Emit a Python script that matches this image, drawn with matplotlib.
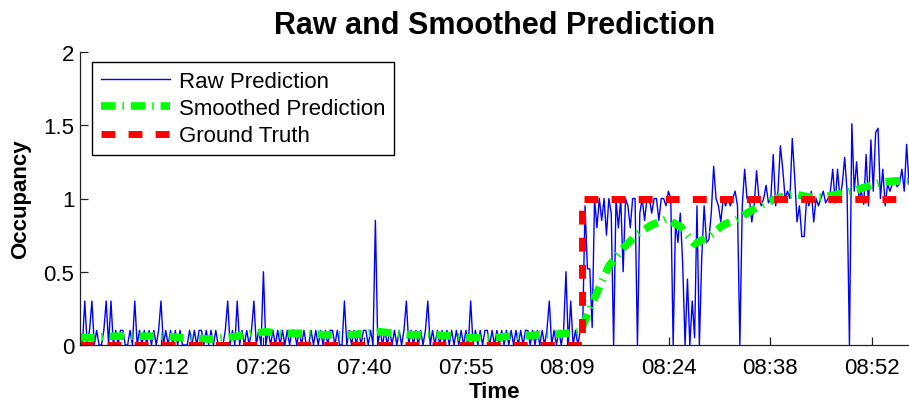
import numpy as np
import matplotlib
matplotlib.use("Agg")
import matplotlib.pyplot as plt
from matplotlib.ticker import FuncFormatter

plt.rcParams['font.family'] = ['Liberation Sans', 'DejaVu Sans']

# sample times in minutes after midnight (one sample about every 20 s)
t_start = 420.5
t_end = 538.1
n_samples = 349

# raw prediction before the person arrives, one digit per sample (tenths, '8' = 0.85)
raw_low_codes = ("1030130100" "1303010110" "0103010101" "0101301010" "1010001010"
                 "1101010100" "0130103010" "1013010501" "0101010101" "1010100101"
                 "0101011010" "0301010101" "1010801010" "1010101301" "0101013010"
                 "1010101010" "1010301010" "1101010101" "0101010110" "1010101301"
                 "01015030101")
code_values = {'0': 0.0, '1': 0.1, '3': 0.3, '5': 0.5, '8': 0.85}

# raw prediction after arrival
raw_high = [0.1, 0.95, 0.52, 0.52, 0.12, 1.0, 0.8, 1.0, 0.85, 1.0,
            0.75, 1.0, 0.9, 0.0, 1.0, 0.8, 1.0, 0.5, 1.0, 0.95,
            0.8, 1.0, 1.0, 0.0, 0.9, 1.0, 0.85, 1.0, 1.0, 0.9,
            1.0, 1.0, 0.85, 1.0, 1.0, 0.95, 1.05, 1.0, 0.0, 0.85,
            0.7, 0.9, 0.55, 0.0, 0.45, 0.0, 0.3, 0.05, 0.95, 0.0,
            0.6, 0.95, 0.7, 0.72, 0.9, 1.22, 1.0, 0.95, 0.84, 1.0,
            0.95, 1.0, 0.95, 1.0, 1.05, 0.95, 0.0, 0.95, 1.2, 1.0,
            1.0, 0.84, 0.95, 1.19, 1.0, 0.95, 1.0, 1.09, 0.97, 1.0,
            1.3, 0.95, 1.05, 1.36, 1.2, 1.0, 1.05, 1.0, 1.41, 1.15,
            0.84, 0.95, 0.74, 0.74, 1.0, 0.95, 1.05, 0.84, 1.0, 0.95,
            1.0, 1.05, 0.97, 1.0, 1.05, 1.2, 0.97, 1.2, 1.0, 1.1,
            1.28, 1.05, 0.0, 1.51, 1.05, 1.25, 1.0, 1.05, 0.96, 1.3,
            0.95, 1.4, 1.05, 1.45, 1.48, 1.0, 1.2, 0.95, 1.1, 1.05,
            1.1, 1.12, 1.08, 1.1, 1.2, 1.05, 1.37, 1.1]

# smoothed prediction, every 6th sample
smoothed = [0.05, 0.05, 0.06, 0.06, 0.06, 0.06, 0.06, 0.05, 0.05, 0.04,
            0.05, 0.06, 0.08, 0.09, 0.08, 0.08, 0.08, 0.07, 0.07, 0.07,
            0.08, 0.09, 0.08, 0.07, 0.07, 0.07, 0.06, 0.05, 0.05, 0.05,
            0.06, 0.06, 0.07, 0.07, 0.08, 0.09, 0.32, 0.54, 0.66, 0.76,
            0.82, 0.86, 0.81, 0.69, 0.74, 0.82, 0.86, 0.92, 0.97, 1.01,
            1.03, 1.01, 1.01, 1.03, 1.05, 1.08, 1.11, 1.12, 1.12]
smooth_every = 6

# ground truth: empty, then occupied from the step time on
truth_step = 491.7
truth_values = [0, 0, 1, 1]

tick_minutes = [432, 446.4, 460.8, 475.2, 489.6, 504, 518.4, 532.8]
ytick_vals = [0, 0.5, 1, 1.5, 2]
ytick_labels = ["0", "0.5", "1", "1.5", "2"]

raw = [code_values[c] for c in raw_low_codes] + raw_high
t = np.linspace(t_start, t_end, n_samples)
t_smooth = t[::smooth_every]
t_truth = [t_start, truth_step, truth_step, t_end]

fig = plt.figure(figsize=(9.09, 4.02), dpi=100)
ax = fig.add_axes([80 / 909, 56 / 402, 829 / 909, 293 / 402])

ax.plot(t, raw, color=(0, 0, 1), lw=1.0, label="Raw Prediction")
ax.plot(t_smooth, smoothed, color=(0, 1, 0), lw=5.5, dashes=(1.9, 0.9, 0.2, 0.9),
        label="Smoothed Prediction")
ax.plot(t_truth, truth_values, color=(1, 0, 0), lw=5, dashes=(2.0, 1.9),
        label="Ground Truth")

ax.set_xlim(t_start, t_end)
ax.set_ylim(0, 2)
ax.set_xticks(tick_minutes)
ax.xaxis.set_major_formatter(FuncFormatter(lambda m, pos: "%02d:%02d" % (int(m // 60), int(m % 60))))
ax.set_yticks(ytick_vals)
ax.set_yticklabels(ytick_labels)

ax.spines['top'].set_visible(False)
ax.spines['right'].set_visible(False)
for s in ['left', 'bottom']:
    ax.spines[s].set_linewidth(0.9)
    ax.spines[s].set_color('#222222')
ax.tick_params(direction='in', length=5.5, width=0.9, color='#222222', labelsize=16, pad=4)
ax.tick_params(axis='x', pad=9)

ax.set_title("Raw and Smoothed Prediction", fontsize=22, fontweight='bold', pad=14)
ax.set_xlabel("Time", fontsize=16, fontweight='bold', labelpad=2)
ax.set_ylabel("Occupancy", fontsize=16, fontweight='bold', labelpad=9)

leg = ax.legend(loc='upper left', bbox_to_anchor=(12 / 829, 1 - 10 / 293), borderaxespad=0,
                fontsize=16, handlelength=3.1, handletextpad=0.4, labelspacing=0.28,
                borderpad=0.4, fancybox=False, framealpha=1)
leg.get_frame().set_edgecolor('black')
leg.get_frame().set_linewidth(1.0)

fig.savefig("out.png", dpi=100)
